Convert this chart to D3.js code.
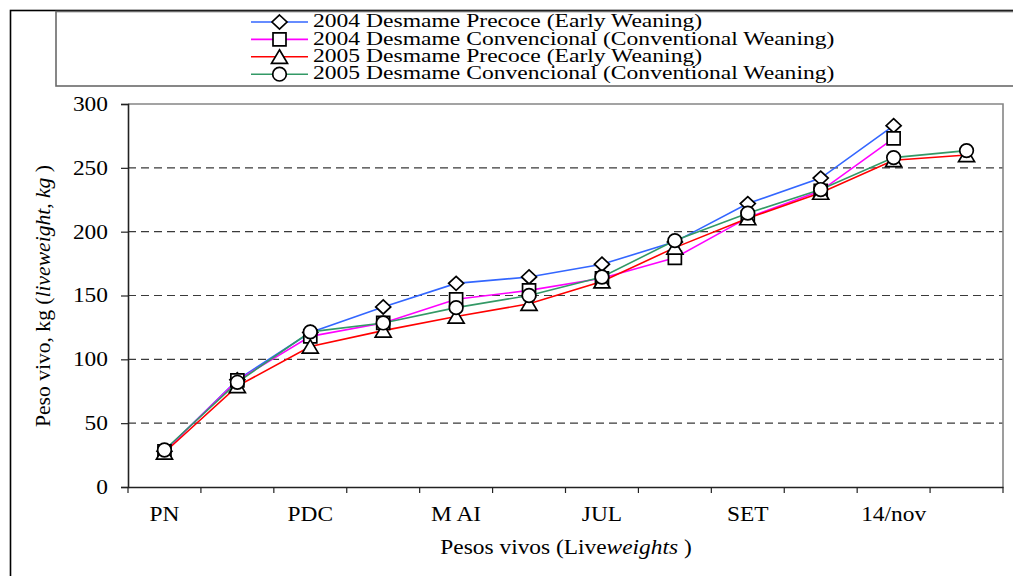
<!DOCTYPE html>
<html><head><meta charset="utf-8">
<script src="https://cdn.jsdelivr.net/npm/d3@7"></script>
<style>
html,body{margin:0;padding:0;background:#fff;}
svg{display:block;font-family:"Liberation Serif","Times New Roman",serif;}
</style></head>
<body>
<svg id="chart" width="1013" height="576"></svg>
<script>
// ---- data ----
const categories = ["PN","c2","PDC","c4","MAI","c6","JUL","c8","SET","c10","14/nov","c12"];
const xTickLabels = ["PN","","PDC","","M AI","","JUL","","SET","","14/nov",""];
const yTicks = [0,50,100,150,200,250,300];
const seriesNames = [
  "2004 Desmame Precoce (Early Weaning)",
  "2004 Desmame Convencional (Conventional Weaning)",
  "2005 Desmame Precoce (Early Weaning)",
  "2005 Desmame Convencional (Conventional Weaning)"
];
const early2004 = [28, 84, 121, 141, 159.5, 164.5, 174.5, 192, 222, 242, 283, null];
const conv2004  = [28, 83.5, 118, 128.5, 147, 154, 163.5, 179.5, 211, 232, 273, null];
const early2005 = [27, 79, 110, 122.5, 133.5, 143.5, 161, 187.5, 210.5, 230.5, 256, 260];
const conv2005  = [29, 82, 121.5, 128.5, 140.5, 150, 164.5, 193, 214.5, 233, 258, 263.5];

const seriesValues = [early2004, conv2004, early2005, conv2005];
const colors = ["#3366ff","#ff00ff","#ff0000","#339966"];
const shapes = ["diamond","square","triangle","circle"];

// ---- layout ----
const L = 128, R = 1003, T = 104, B = 487;
const SX = 1.17; // horizontal text stretch
const FF = "'Liberation Serif','Times New Roman',serif";
const svg = d3.select("#chart");

// outer frame and legend frame
svg.append("rect").attr("x",10.5).attr("y",10.5).attr("width",1100).attr("height",700)
  .attr("fill","none").attr("stroke","#000").attr("stroke-width",1.6);
svg.append("rect").attr("x",56).attr("y",11.5).attr("width",1100).attr("height",74.5)
  .attr("fill","none").attr("stroke","#6a6a6a").attr("stroke-width",1.6);

const x = d3.scaleBand().domain(d3.range(categories.length)).range([L,R]).padding(0);
const y = d3.scaleLinear().domain([0,300]).range([B,T]);
const cx = i => x(i) + x.bandwidth()/2;

// gridlines
svg.append("g").selectAll("line").data(yTicks.filter(v => v>0 && v<300)).join("line")
  .attr("x1",L).attr("x2",R).attr("y1",d=>y(d)).attr("y2",d=>y(d))
  .attr("stroke","#3a3a3a").attr("stroke-width",1.2).attr("stroke-dasharray","8,5");

// plot border (top, right)
svg.append("path").attr("d",`M${L},${y(300)}H${R}V${B}`)
  .attr("fill","none").attr("stroke","#858585").attr("stroke-width",1.6);

// y axis
const gy = svg.append("g").attr("transform",`translate(${L},0)`)
  .call(d3.axisLeft(y).tickValues(yTicks).tickSize(7).tickPadding(13));
gy.attr("font-family",null);
gy.select(".domain").attr("stroke","#222").attr("stroke-width",1.6);
gy.selectAll(".tick line").attr("stroke","#222").attr("stroke-width",1.2);
gy.selectAll(".tick text").attr("x",null).attr("font-size",20).attr("fill","#000")
  .style("font-family",FF)
  .attr("transform","translate(-20,0) scale("+SX+",1)");

// x axis labels
const gx = svg.append("g").attr("transform",`translate(0,${B})`)
  .call(d3.axisBottom(x).tickSize(0).tickPadding(20).tickFormat(i => xTickLabels[i]));
gx.attr("font-family",null);
gx.select(".domain").attr("stroke","#222").attr("stroke-width",1.6);
gx.selectAll(".tick text").attr("font-size",20).attr("fill","#000")
  .style("font-family",FF)
  .attr("transform","scale("+SX+",1)");
// x tick marks at category boundaries
svg.append("g").selectAll("line").data(d3.range(categories.length+1)).join("line")
  .attr("x1",i => L + i*x.step()).attr("x2",i => L + i*x.step())
  .attr("y1",B).attr("y2",B+6).attr("stroke","#222").attr("stroke-width",1.2);

// axis titles
const yt = svg.append("text").attr("transform","translate(45,296) rotate(-90) scale(1.08,1)")
  .attr("text-anchor","middle").attr("dominant-baseline","middle").attr("font-size",20).attr("fill","#000");
yt.append("tspan").text("Peso vivo, kg (");
yt.append("tspan").attr("font-style","italic").text("liveweight, kg");
yt.append("tspan").text(" )");

const xt = svg.append("text").attr("transform","translate(566,549) scale("+SX+",1)")
  .attr("text-anchor","middle").attr("dominant-baseline","middle").attr("font-size",20).attr("fill","#000");
xt.append("tspan").text("Pesos vivos (Live");
xt.append("tspan").attr("font-style","italic").text("weights");
xt.append("tspan").text(" )");

// marker paths
function markerPath(shape){
  switch(shape){
    case "diamond": return "M0,-7L7.5,0L0,7L-7.5,0Z";
    case "square": return "M-6.5,-6.5H6.5V6.5H-6.5Z";
    case "triangle": return "M0,-7L8,6.5H-8Z";
    default: return "M-6.8,0A6.8,6.8 0 1,0 6.8,0A6.8,6.8 0 1,0 -6.8,0Z";
  }
}

// lines
const line = d3.line().defined(d => d.v != null).x(d => cx(d.i)).y(d => y(d.v));
seriesValues.forEach((vals,s) => {
  svg.append("path").datum(vals.map((v,i)=>({i,v})))
    .attr("d",line).attr("fill","none").attr("stroke",colors[s]).attr("stroke-width",1.6);
});
// markers
seriesValues.forEach((vals,s) => {
  svg.append("g").selectAll("path").data(vals.map((v,i)=>({i,v})).filter(d=>d.v!=null)).join("path")
    .attr("transform",d=>`translate(${cx(d.i)},${y(d.v)})`)
    .attr("d",markerPath(shapes[s])).attr("fill","#fff").attr("stroke","#000").attr("stroke-width",1.7);
});

// legend
const lg = svg.append("g");
seriesNames.forEach((name,s) => {
  const ly = 22 + s*17.4;
  lg.append("line").attr("x1",251).attr("x2",308).attr("y1",ly).attr("y2",ly)
    .attr("stroke",colors[s]).attr("stroke-width",1.6);
  lg.append("path").attr("transform",`translate(279.5,${ly})`).attr("d",markerPath(shapes[s]))
    .attr("fill","#fff").attr("stroke","#000").attr("stroke-width",1.7);
  lg.append("text").attr("transform",`translate(313,${ly+1}) scale(1.31,1)`)
    .attr("dominant-baseline","middle").attr("font-size",18).attr("fill","#000").text(name);
});
</script>
</body></html>
